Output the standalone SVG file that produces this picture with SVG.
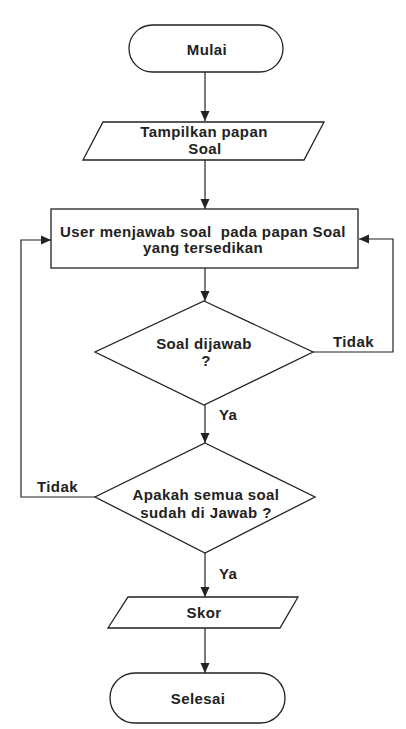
<svg xmlns="http://www.w3.org/2000/svg" width="406" height="729" viewBox="0 0 406 729">
<defs>
<marker id="arr" markerWidth="10" markerHeight="12" refX="10" refY="5" orient="auto" markerUnits="userSpaceOnUse">
<path d="M0,0.5 L10,5 L0,9.5 Z" fill="#222"/>
</marker>
<style>
.s{fill:#fff;stroke:#222;stroke-width:1.3}
.c{fill:none;stroke:#222;stroke-width:1.2}
.t{font-family:"Liberation Sans",Arial,sans-serif;font-weight:bold;font-size:15px;letter-spacing:0.4px;fill:#222;text-anchor:middle;white-space:pre}
.l{font-family:"Liberation Sans",Arial,sans-serif;font-weight:bold;font-size:15px;letter-spacing:0.4px;fill:#222}
</style>
</defs>
<rect width="406" height="729" fill="#fff"/>
<g id="connectors">
<line class="c" x1="205" y1="72" x2="205" y2="121" marker-end="url(#arr)"/>
<line class="c" x1="205" y1="160" x2="205" y2="209" marker-end="url(#arr)"/>
<line class="c" x1="205" y1="268" x2="205" y2="301" marker-end="url(#arr)"/>
<polyline class="c" points="313,352 393,352 393,239 359,239" marker-end="url(#arr)"/>
<line class="c" x1="205" y1="405" x2="205" y2="443" marker-end="url(#arr)"/>
<polyline class="c" points="95,497 21,497 21,240 51,240" marker-end="url(#arr)"/>
<line class="c" x1="205" y1="553" x2="205" y2="597" marker-end="url(#arr)"/>
<line class="c" x1="205" y1="628" x2="205" y2="673" marker-end="url(#arr)"/>
<text class="l" x="333" y="347">Tidak</text>
<text class="l" x="219" y="420">Ya</text>
<text class="l" x="37" y="492">Tidak</text>
<text class="l" x="219" y="579">Ya</text>
</g>
<g id="mulai">
<rect class="s" x="129" y="25" width="154" height="47" rx="23.5"/>
<text class="t" x="207" y="55">Mulai</text>
</g>
<g id="tampilkan">
<polygon class="s" points="103,122 324,122 304,160 83,160"/>
<text class="t" x="204" y="137">Tampilkan papan</text>
<text class="t" x="205" y="154">Soal</text>
</g>
<g id="user">
<rect class="s" x="51" y="209" width="307" height="59"/>
<text class="t" x="203" y="237" xml:space="preserve">User menjawab soal  pada papan Soal</text>
<text class="t" x="203" y="253">yang tersedikan</text>
</g>
<g id="dijawab">
<polygon class="s" points="204,301 313,352 204,405 95,352"/>
<text class="t" x="204" y="349">Soal dijawab</text>
<text class="t" x="206" y="366">?</text>
</g>
<g id="semua">
<polygon class="s" points="205,443 315,497 205,553 95,497"/>
<text class="t" x="206" y="500">Apakah semua soal</text>
<text class="t" x="206" y="518">sudah di Jawab ?</text>
</g>
<g id="skor">
<polygon class="s" points="128,597 298,597 280,628 108,628"/>
<text class="t" x="204" y="618">Skor</text>
</g>
<g id="selesai">
<rect class="s" x="110" y="673" width="175" height="50" rx="25"/>
<text class="t" x="198" y="704">Selesai</text>
</g>
</svg>
